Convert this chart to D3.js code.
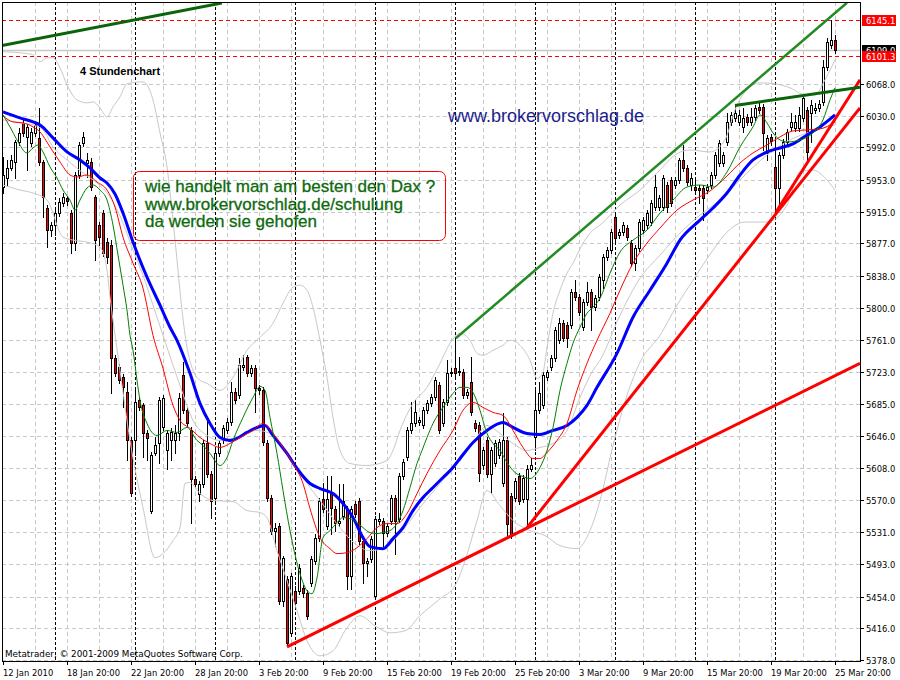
<!DOCTYPE html>
<html><head><meta charset="utf-8">
<script src="https://cdn.jsdelivr.net/npm/d3@7"></script>
<style>body{margin:0;background:#fff}svg{display:block}</style>
</head><body><div id="chart"></div>
<script>
// ---------- DATA ----------
const openP = [5944.6,5955.4,5967.4,5974.6,5998.6,6021.4,6004.6,5997.4,6009.4,6003.4,
5974.6,5919.4,5893.0,5899.0,5913.4,5925.4,5931.4,5913.4,5877.4,5959.0,
5997.4,5973.4,5974.6,5932.6,5899.0,5913.4,5878.6,5875.0,5739.4,5728.6,
5716.6,5698.6,5641.0,5641.0,5689.0,5683.0,5649.4,5557.0,5625.4,5637.4,
5656.6,5629.0,5641.0,5641.0,5649.4,5719.0,5677.0,5653.0,5595.4,5577.4,
5589.4,5637.4,5601.4,5572.6,5625.4,5641.0,5653.0,5662.6,5698.6,5695.0,
5728.6,5740.6,5721.4,5727.4,5703.4,5701.0,5637.4,5572.6,5533.0,5539.0,
5449.0,5475.4,5410.6,5461.0,5461.0,5464.6,5458.6,5470.6,5497.0,5524.6,
5571.4,5539.0,5578.6,5559.4,5542.6,5551.0,5559.4,5479.0,5565.4,5569.0,
5521.0,5494.6,5499.4,5455.0,5545.0,5545.0,5530.6,5545.0,5572.6,5547.4,
5599.0,5620.6,5653.0,5661.4,5662.6,5659.0,5677.0,5685.4,5692.6,5707.0,
5661.4,5686.6,5721.4,5727.4,5722.6,5722.6,5695.0,5710.6,5661.4,5659.0,
5611.0,5641.0,5601.4,5613.4,5623.0,5590.6,5641.0,5575.0,5572.6,5599.0,
5571.4,5571.4,5607.4,5644.6,5677.0,5683.0,5716.6,5728.6,5739.4,5761.0,
5781.4,5779.0,5779.0,5818.6,5812.6,5776.6,5806.6,5818.6,5800.6,5812.6,
5833.0,5860.6,5869.0,5908.6,5887.0,5890.6,5895.4,5877.4,5853.4,5871.4,
5893.0,5899.0,5902.6,5920.6,5920.6,5920.6,5947.0,5953.0,5947.0,5953.0,
5977.0,5967.4,5947.0,5944.6,5943.4,5943.4,5941.0,5947.0,5959.0,5973.4,
5973.4,5998.6,6022.6,6027.4,6022.6,6016.6,6028.6,6022.6,6028.6,6040.6,
6040.6,5985.4,6004.6,5968.6,5943.4,5983.0,5998.6,6016.6,6015.4,6015.4,
6027.4,6037.0,6033.4,6037.0,6039.4,6046.6,6088.6,6115.0,6121.0];
const highP = [5980.6,5977.0,5983.0,6001.0,6015.4,6025.0,6020.2,6015.4,6022.6,6039.4,
5977.0,5923.0,5902.6,5917.0,5931.4,5937.4,5933.8,5917.0,5962.6,5998.6,
6010.6,5985.4,5979.4,5935.0,5902.6,5917.0,5883.4,5881.0,5743.0,5732.2,
5720.2,5710.6,5644.6,5701.0,5692.6,5685.4,5653.0,5626.6,5644.6,5692.6,
5695.0,5653.0,5655.4,5659.0,5697.4,5734.6,5680.6,5656.6,5599.0,5593.0,
5641.0,5667.4,5605.0,5629.0,5641.0,5659.0,5667.4,5710.6,5703.4,5739.4,
5743.0,5743.0,5731.0,5731.0,5707.0,5704.6,5641.0,5576.2,5542.6,5542.6,
5503.0,5479.0,5482.6,5467.0,5493.4,5468.2,5462.2,5503.0,5529.4,5572.6,
5590.6,5599.0,5599.0,5563.0,5589.4,5589.4,5563.0,5563.0,5569.0,5572.6,
5524.6,5500.6,5527.0,5551.0,5554.6,5548.6,5542.6,5576.2,5576.2,5602.6,
5618.2,5656.6,5686.6,5689.0,5668.6,5680.6,5689.0,5696.2,5716.6,5710.6,
5690.2,5737.0,5727.4,5763.4,5740.6,5726.2,5702.2,5740.6,5665.0,5662.6,
5632.6,5644.6,5632.6,5641.0,5642.2,5673.4,5644.6,5578.6,5596.6,5602.6,
5600.2,5611.0,5619.4,5704.6,5710.6,5722.6,5725.0,5743.0,5776.6,5787.4,
5785.0,5782.6,5822.2,5833.0,5816.2,5810.2,5830.6,5822.2,5815.0,5840.2,
5864.2,5872.6,5894.2,5912.2,5894.2,5902.6,5899.0,5881.0,5875.0,5906.2,
5908.6,5917.0,5929.0,5959.0,5935.0,5959.0,5950.6,5956.6,5956.6,5979.4,
5995.0,5971.0,5961.4,5955.4,5947.0,5947.0,5948.2,5962.6,5986.6,6001.0,
5986.6,6033.4,6034.6,6043.0,6037.0,6039.4,6032.2,6039.4,6043.0,6047.8,
6044.2,6007.0,6008.2,6001.0,5986.6,6002.2,6014.2,6033.4,6031.0,6040.6,
6055.0,6040.6,6049.0,6045.4,6049.0,6097.0,6123.4,6145.1,6127.0];
const lowP = [5937.4,5947.0,5965.0,5955.4,5995.0,6005.8,5965.0,5993.8,6005.8,5971.0,
5908.6,5872.6,5885.8,5887.0,5909.8,5921.8,5923.0,5865.4,5869.0,5955.4,
5993.8,5956.6,5941.0,5857.0,5875.0,5861.8,5853.4,5697.4,5717.8,5709.4,
5680.6,5617.0,5575.0,5623.0,5677.0,5620.6,5617.0,5554.6,5623.0,5613.4,
5653.0,5607.4,5617.0,5625.4,5641.0,5673.4,5657.8,5542.6,5585.8,5569.0,
5585.8,5597.8,5548.6,5569.0,5621.8,5637.4,5649.4,5659.0,5685.4,5691.4,
5725.0,5717.8,5717.8,5674.6,5696.2,5635.0,5569.0,5529.4,5515.0,5445.4,
5443.0,5395.0,5407.0,5441.8,5457.4,5453.8,5427.4,5467.0,5493.4,5521.0,
5555.8,5535.4,5529.4,5533.0,5539.0,5547.4,5463.4,5463.4,5549.8,5517.4,
5470.6,5479.0,5495.8,5452.6,5541.4,5511.4,5527.0,5541.4,5505.4,5543.8,
5595.4,5617.0,5649.4,5657.8,5659.0,5655.4,5673.4,5681.8,5689.0,5649.4,
5657.8,5683.0,5717.8,5717.8,5719.0,5691.4,5691.4,5671.0,5651.8,5593.0,
5607.4,5597.8,5578.6,5609.8,5619.4,5587.0,5524.6,5524.6,5569.0,5565.4,
5567.8,5536.6,5605.0,5629.0,5673.4,5679.4,5713.0,5725.0,5735.8,5757.4,
5759.8,5752.6,5775.4,5809.0,5791.0,5773.0,5803.0,5773.0,5797.0,5809.0,
5823.4,5857.0,5865.4,5879.8,5883.4,5887.0,5881.0,5849.8,5845.0,5867.8,
5889.4,5895.4,5899.0,5917.0,5917.0,5917.0,5914.6,5921.8,5943.4,5949.4,
5963.8,5947.0,5941.0,5937.4,5925.4,5905.0,5937.4,5943.4,5955.4,5969.8,
5969.8,5995.0,6019.0,6023.8,6019.0,6010.6,6019.0,6019.0,6025.0,6033.4,
5989.0,5977.0,5995.0,5913.4,5920.6,5979.4,5995.0,6013.0,6011.8,6011.8,
6023.8,5974.6,5998.6,6033.4,6035.8,6043.0,6085.0,6111.4,6105.4];
const closeP = [5959.0,5967.4,5977.0,5998.6,6009.4,6009.4,6016.6,6010.6,6019.0,5974.6,
5932.6,5893.0,5899.0,5913.4,5926.6,5932.6,5927.8,5877.4,5959.0,5995.0,
6004.6,5977.0,5944.6,5881.0,5884.6,5865.4,5860.6,5739.4,5721.4,5713.0,
5704.6,5641.0,5578.6,5686.6,5680.6,5649.4,5643.4,5623.0,5635.0,5689.0,
5691.4,5649.4,5650.6,5649.4,5691.4,5677.0,5661.4,5595.4,5589.4,5589.4,
5637.4,5601.4,5569.0,5625.4,5637.4,5655.4,5662.6,5698.6,5689.0,5731.0,
5731.0,5721.4,5727.4,5703.4,5701.0,5638.6,5572.6,5533.0,5536.6,5449.0,
5500.6,5398.6,5479.0,5446.6,5488.6,5458.6,5431.0,5499.4,5524.6,5569.0,
5559.4,5571.4,5560.6,5542.6,5545.0,5569.0,5479.0,5559.4,5553.4,5521.0,
5494.6,5497.0,5523.4,5547.4,5547.4,5530.6,5539.0,5572.6,5545.0,5599.0,
5614.6,5653.0,5661.4,5674.6,5665.0,5677.0,5685.4,5692.6,5713.0,5653.0,
5686.6,5721.4,5722.6,5721.4,5723.8,5695.0,5698.6,5674.6,5655.4,5602.6,
5629.0,5601.4,5629.0,5637.4,5638.6,5641.0,5541.4,5527.0,5593.0,5569.0,
5596.6,5607.4,5611.0,5677.0,5697.4,5719.0,5722.6,5739.4,5773.0,5781.4,
5763.4,5763.4,5818.6,5812.6,5794.6,5806.6,5818.6,5800.6,5811.4,5836.6,
5860.6,5869.0,5890.6,5883.4,5890.6,5899.0,5884.6,5853.4,5871.4,5902.6,
5905.0,5913.4,5925.4,5944.6,5931.4,5955.4,5920.6,5925.4,5953.0,5977.0,
5967.4,5950.6,5955.4,5941.0,5941.0,5931.4,5944.6,5959.0,5983.0,5997.4,
5983.0,6022.6,6031.0,6033.4,6031.0,6027.4,6022.6,6028.6,6039.4,6037.0,
6009.4,6003.4,5999.8,5943.4,5983.0,5998.6,6010.6,6022.6,6022.6,6031.0,
6051.4,5986.6,6043.0,6039.4,6044.2,6088.6,6118.6,6121.0,6109.0];

// moving averages / bands: [bar index, price]
const maBlue = [[0,6034.6],[4.25,6027.4],[7.5,6022.6],[9.25,6019.0],[12.5,6003.4],[16,5986.6],[19.25,5977.0],[21.75,5967.4],[24.25,5955.4],[26,5949.4],[28,5936.2],[30,5913.4],[32.5,5878.6],[36,5836.6],[39.25,5803.0],[41.75,5776.6],[43.5,5761.0],[46.75,5721.4],[49.25,5685.4],[51.75,5661.4],[54.25,5644.6],[56.75,5641.0],[58.5,5643.4],[61,5650.6],[64.25,5657.8],[65.5,5659.0],[67.5,5647.0],[71,5625.4],[73.5,5607.4],[76.75,5589.4],[79.25,5583.4],[82.5,5577.4],[85,5565.4],[87.5,5548.6],[90,5524.6],[91.75,5513.8],[95,5511.4],[97.5,5523.4],[100,5536.6],[102.5,5557.0],[105,5572.6],[107.5,5584.6],[110,5596.6],[112.5,5608.6],[114.25,5619.4],[117.5,5638.6],[121,5653.0],[125,5662.6],[127.5,5656.6],[131,5649.4],[134.25,5648.2],[137.5,5653.0],[141,5659.0],[143.5,5668.6],[146,5683.0],[148.5,5704.6],[153.5,5745.4],[157.5,5788.6],[161.75,5821.0],[166,5853.4],[169.25,5881.0],[174.25,5905.0],[177.5,5919.4],[181,5937.4],[184.25,5959.0],[187.5,5977.0],[191,5986.6],[194.25,5991.4],[197.5,5996.2],[201,6007.0],[204.25,6016.6],[208,6031.0]];
const maRed = [[0,6029.8],[2.5,6022.6],[5,6021.4],[7.5,6016.6],[9.25,6010.6],[11.75,5992.6],[14.25,5974.6],[16.75,5959.0],[18.5,5956.6],[21,5959.0],[23.5,5950.6],[26,5941.0],[28,5920.6],[30,5884.6],[32.5,5853.4],[35,5823.4],[37.5,5767.0],[40,5727.4],[42.5,5683.0],[44.25,5665.0],[46.75,5655.4],[49.25,5644.6],[51.75,5637.4],[54.25,5632.6],[56.75,5637.4],[59.25,5644.6],[62.5,5653.0],[65,5661.4],[67.5,5649.4],[70,5632.6],[72.5,5613.4],[75,5589.4],[76.75,5559.4],[79.25,5524.6],[81.75,5511.4],[83.5,5505.4],[86,5506.6],[88.5,5512.6],[91,5523.4],[93.5,5536.6],[96,5541.4],[98.5,5541.4],[101,5553.4],[103.5,5577.4],[106,5601.4],[109.25,5629.0],[112.5,5653.0],[115,5677.0],[117.5,5686.6],[120,5680.6],[122.5,5674.6],[125,5671.0],[127.5,5653.0],[130,5632.6],[132.5,5619.4],[134.25,5619.4],[136,5626.6],[138.5,5641.0],[141,5661.4],[143.5,5701.0],[146,5733.4],[148.5,5761.0],[151.75,5793.4],[154.25,5821.0],[157.5,5853.4],[161,5877.4],[164.25,5895.4],[168.5,5917.0],[172.5,5929.0],[176.75,5939.8],[181,5957.8],[184.25,5973.4],[187.5,5985.4],[191,5995.0],[194.25,6004.6],[197.5,6011.8],[201,6013.0],[204.25,6014.2],[208,6022.6]];
const maGreen = [[0,6031.0],[1.75,6016.6],[3.5,6001.0],[6,5985.4],[7.5,5991.4],[8.75,5995.0],[10,5986.6],[11.75,5968.6],[13.5,5955.4],[15,5941.0],[16.75,5929.0],[18,5917.0],[19.25,5929.0],[21,5943.4],[22.5,5947.0],[24.25,5941.0],[26,5929.0],[27.5,5899.0],[28.75,5863.0],[30,5827.0],[31,5797.0],[31.75,5767.0],[32.5,5749.0],[33.5,5713.0],[34.25,5689.0],[36,5661.4],[38.5,5647.0],[41,5653.0],[43.5,5650.6],[46,5656.6],[48.5,5641.0],[50,5635.0],[51.75,5625.4],[54.25,5611.0],[56,5620.6],[57.5,5641.0],[60,5668.6],[62.5,5692.6],[64.25,5705.8],[65.5,5701.0],[66.75,5668.6],[68.5,5625.4],[70,5581.0],[71.75,5533.0],[74.25,5481.4],[76,5461.0],[77.25,5457.4],[78.5,5476.6],[80,5524.6],[81.75,5533.0],[83.5,5542.6],[85,5548.6],[86.75,5547.4],[88.5,5542.6],[90,5536.6],[91.75,5530.6],[93.5,5529.4],[95,5530.6],[96.75,5533.0],[98.5,5541.4],[100,5557.0],[101.75,5584.6],[103.5,5613.4],[104.75,5629.0],[106,5644.6],[107.5,5661.4],[110,5680.6],[112.5,5697.4],[114.25,5704.6],[116,5704.6],[117.5,5698.6],[119.25,5677.0],[121,5649.4],[122.5,5637.4],[124.25,5629.0],[126,5614.6],[128,5602.6],[130,5597.8],[131.75,5595.4],[134.25,5608.6],[136,5629.0],[137.5,5656.6],[139.25,5701.0],[141,5733.4],[142.5,5757.4],[144.25,5776.6],[146,5793.4],[147.5,5800.6],[149.25,5811.4],[151.75,5841.4],[154.25,5866.6],[157.5,5881.0],[161,5893.0],[164.25,5913.4],[167.5,5929.0],[171,5944.6],[174.25,5947.0],[177.5,5944.6],[181,5962.6],[184.25,5992.6],[187.5,6016.6],[189.25,6031.0],[191,6021.4],[192.5,6009.4],[194.25,6001.0],[196,5998.6],[199.25,6001.0],[202.5,6009.4],[205,6025.0],[206.75,6049.0],[208,6063.4]];
const bandUpper = [[0,6106.6],[4.25,6105.4],[7.5,6103.0],[9.25,6094.6],[11,6099.4],[12.5,6099.4],[14.25,6087.4],[16,6067.0],[18.5,6049.0],[21,6045.4],[22.5,6046.6],[24.25,6039.4],[26,6028.6],[27.5,6040.6],[29.25,6052.6],[31,6068.2],[35,6070.6],[37.5,6049.0],[39.25,6009.4],[41,5968.6],[42.5,5905.0],[43.5,5857.0],[44.75,5797.0],[46,5752.6],[47.5,5725.0],[49.25,5713.0],[51,5709.4],[52.5,5704.6],[54.25,5701.0],[57.5,5716.6],[61,5749.0],[64.25,5764.6],[67.5,5781.4],[70,5805.4],[72.5,5824.6],[74.25,5827.0],[76,5821.0],[77.5,5800.6],[79.25,5761.0],[81,5716.6],[82.5,5668.6],[84.25,5629.0],[86.75,5613.4],[91,5611.0],[96,5617.0],[97.5,5629.0],[99.25,5653.0],[102.5,5685.4],[106,5704.6],[109.25,5733.4],[111.75,5757.4],[114.25,5769.4],[116.75,5761.0],[118.5,5745.4],[120,5743.0],[122.5,5749.0],[125,5755.0],[126.75,5761.0],[129.25,5755.0],[131.75,5737.0],[133.5,5715.4],[135,5722.6],[136,5752.6],[137.5,5793.4],[139.25,5821.0],[141,5841.4],[142.5,5853.4],[145,5877.4],[147.5,5893.0],[149.25,5899.0],[154.25,5923.0],[159.25,5941.0],[164.25,5965.0],[168,5983.0],[171.75,5989.0],[176.75,5986.6],[180.5,6001.0],[183,6037.0],[185.5,6058.6],[189.25,6069.4],[193,6068.2],[196.75,6063.4],[200.5,6055.0],[203,6055.0],[205.5,6073.0],[208,6097.0]];
const bandMiddle = [[0,6025.0],[4.25,6021.4],[7.5,6019.0],[10,6013.0],[12.5,5992.6],[16,5977.0],[20,5961.4],[23.5,5949.4],[26.75,5932.6],[30,5901.4],[32.5,5869.0],[35,5839.0],[37.5,5803.0],[40,5767.0],[42.5,5731.0],[44.25,5707.0],[47.5,5665.0],[51,5647.0],[54.25,5641.0],[58.5,5644.6],[63.5,5653.0],[66.75,5649.4],[70,5632.6],[73.5,5607.4],[76.75,5584.6],[79.25,5569.0],[84.25,5536.6],[88,5517.4],[91.75,5509.0],[95.5,5512.6],[99.25,5529.4],[104.25,5560.6],[109.25,5589.4],[114.25,5617.0],[117.5,5637.4],[121,5659.0],[124.25,5649.4],[127.5,5637.4],[131,5629.0],[134.25,5632.6],[137.5,5637.4],[141,5653.0],[144.25,5692.6],[147.5,5725.0],[149.25,5737.0],[154.25,5791.0],[159.25,5835.4],[164.25,5863.0],[170,5893.0],[174.25,5911.0],[179.25,5929.0],[185.5,5959.0],[191,5983.0],[196.75,6001.0],[201.75,6010.6],[208,6019.0]];
const bandLower = [[0,5947.0],[4.25,5941.0],[7.5,5937.4],[11,5929.0],[15,5884.6],[17.5,5881.0],[21,5878.6],[24.25,5872.6],[26,5845.0],[26.75,5812.6],[27.5,5785.0],[29.25,5725.0],[31.75,5641.0],[35,5560.6],[38,5500.6],[40,5505.4],[42.5,5521.0],[44.25,5536.6],[45.5,5589.4],[46.75,5590.6],[49.25,5577.4],[52.5,5569.0],[57.5,5567.8],[61,5557.0],[64.25,5554.6],[66,5548.6],[68.5,5509.0],[71,5473.0],[73.5,5437.0],[76,5401.0],[79.25,5383.0],[82.5,5389.0],[85.5,5413.0],[89.25,5431.0],[93,5419.0],[96.75,5410.6],[100.5,5413.0],[104.25,5431.0],[109.25,5451.4],[113,5467.0],[115.5,5497.0],[118.5,5545.0],[121,5581.0],[124.25,5563.0],[127.5,5545.0],[131.75,5533.0],[135.5,5527.0],[139.25,5515.0],[143.5,5511.4],[146.75,5533.0],[149.25,5569.0],[152.5,5635.0],[156,5695.0],[159.25,5734.6],[164.25,5767.0],[168.5,5803.0],[172.5,5833.0],[177.5,5869.0],[181,5890.6],[185.5,5902.6],[191,5902.6],[196,5923.0],[199.25,5962.6],[202.5,5965.0],[206,5953.0],[208,5941.0]];

// trend lines drawn by the author: [[bar, price],[bar, price]]
const trendDarkGreen = [[[-0.25,6114.2],[54.7,6165.0]], [[183,6042.2],[214.25,6064.2]]];
const trendGreen = [[[113.2,5763.4],[211,6165.4]]];
const trendRed = [[[71,5393.8],[214.25,5733.4]], [[131,5536.6],[214.25,6039.4]], [[193.25,5914.6],[214.25,6073.0]]];

const yTickLabels = ["6068.0","6030.0","5992.0","5953.0","5915.0","5877.0","5838.0","5800.0","5761.0","5723.0","5685.0","5646.0","5608.0","5570.0","5531.0","5493.0","5454.0","5416.0","5378.0"];
const dateLabels = ["12 Jan 2010","18 Jan 20:00","22 Jan 20:00","28 Jan 20:00","3 Feb 20:00","9 Feb 20:00","15 Feb 20:00","19 Feb 20:00","25 Feb 20:00","3 Mar 20:00","9 Mar 20:00","15 Mar 20:00","19 Mar 20:00","25 Mar 20:00"];
const barsPerLabel = 16;
const barsPerGrid = 8;
const weekStartBars = [13,33,53,73,93,113,133,153,173,193];
const levelLines = [6145.1, 6101.3];
const lastPrice = 6109.0;
const chartTitle = "4 Stundenchart";
const siteText = "www.brokervorschlag.de";
const boxLines = ["wie handelt man am besten den Dax ?","www.brokervorschlag.de/schulung","da werden sie gehofen"];
const copyright = "Metatrader, \u00A9 2001-2009 MetaQuotes Software Corp.";

// ---------- CHART ----------
const W = 900, H = 680;
const L = 2, R = 860, T = 2, B = 661;
const svg = d3.select("#chart").append("svg").attr("width", W).attr("height", H)
  .style("font-family", "'DejaVu Sans', sans-serif");
const x = d3.scaleLinear().domain([-0.25, 214.25]).range([L, R]);
const y = d3.scaleLinear().domain([5378, 6068]).range([660, 84]);
const px = v => Math.round(x(v));
const py = v => Math.round(y(v));

svg.append("defs").append("clipPath").attr("id", "plot")
  .append("rect").attr("x", L).attr("y", T).attr("width", R - L).attr("height", B - T);
const g = svg.append("g").attr("clip-path", "url(#plot)");

const tickVals = yTickLabels.map(Number);
g.selectAll(".hg").data(tickVals).join("line")
  .attr("x1", L).attr("x2", R).attr("y1", d => py(d) + 0.5).attr("y2", d => py(d) + 0.5)
  .attr("stroke", "#c8c8c8").attr("stroke-dasharray", "4,3");
const nBars = closeP.length;
const gridBars = d3.range(barsPerGrid, nBars, barsPerGrid);
g.selectAll(".vg").data(gridBars).join("line")
  .attr("x1", d => px(d) + 0.5).attr("x2", d => px(d) + 0.5).attr("y1", T).attr("y2", B)
  .attr("stroke", "#c8c8c8").attr("stroke-dasharray", "4,3");
g.selectAll(".sep").data(weekStartBars).join("line")
  .attr("x1", d => px(d) + 0.5).attr("x2", d => px(d) + 0.5).attr("y1", T).attr("y2", B)
  .attr("stroke", "#000").attr("stroke-dasharray", "3,2");
g.append("line").attr("x1", L).attr("x2", R).attr("y1", py(lastPrice) + 0.5).attr("y2", py(lastPrice) + 0.5)
  .attr("stroke", "#c8c8c8").attr("stroke-width", 1.5);
g.selectAll(".lvl").data(levelLines).join("line")
  .attr("x1", L).attr("x2", R).attr("y1", d => py(d) + 0.5).attr("y2", d => py(d) + 0.5)
  .attr("stroke", "#ff0000").attr("stroke-dasharray", "4,3");

// candles
const bars = d3.range(nBars);
const cg = g.append("g");
cg.selectAll(".wick").data(bars).join("line")
  .attr("x1", i => px(i) + 0.5).attr("x2", i => px(i) + 0.5)
  .attr("y1", i => py(highP[i])).attr("y2", i => py(lowP[i]) + 1)
  .attr("stroke", "#000");
cg.selectAll(".body").data(bars).join("rect")
  .attr("x", i => px(i) - 0.5).attr("width", 2)
  .attr("y", i => py(Math.max(openP[i], closeP[i])) + 0.5)
  .attr("height", i => Math.max(0.01, py(Math.min(openP[i], closeP[i])) - py(Math.max(openP[i], closeP[i]))))
  .attr("fill", i => closeP[i] < openP[i] ? "#ff0000" : "#ffffff")
  .attr("stroke", "#000");

// indicator lines
const line = d3.line().x(d => x(d[0])).y(d => y(d[1])).curve(d3.curveMonotoneX);
[[bandUpper, "#c8c8c8", 1], [bandMiddle, "#c8c8c8", 1], [bandLower, "#c8c8c8", 1],
 [maBlue, "#0000ff", 3], [maRed, "#ff0000", 1], [maGreen, "#008000", 1]].forEach(([d, c, w]) => {
  g.append("path").datum(d).attr("d", line).attr("fill", "none").attr("stroke", c).attr("stroke-width", w);
});

// trend lines
const tl = d3.line().x(d => x(d[0])).y(d => y(d[1]));
trendRed.forEach(d => g.append("path").attr("d", tl(d)).attr("stroke", "#ff0000").attr("stroke-width", 3).attr("fill", "none"));
trendGreen.forEach(d => g.append("path").attr("d", tl(d)).attr("stroke", "#228b22").attr("stroke-width", 2.5).attr("fill", "none"));
trendDarkGreen.forEach(d => g.append("path").attr("d", tl(d)).attr("stroke", "#0a640a").attr("stroke-width", 3).attr("fill", "none"));

// text objects
g.append("text").attr("x", 80).attr("y", 75).text(chartTitle)
  .style("font-family", "'Liberation Sans', Arial, sans-serif").style("font-weight", "bold").style("font-size", "11px").attr("fill", "#000");
g.append("text").attr("x", 448).attr("y", 122).text(siteText)
  .style("font-family", "'Liberation Sans', Arial, sans-serif").style("font-size", "18px").attr("fill", "#1c1c8c");
g.append("rect").attr("x", 133.5).attr("y", 171.5).attr("width", 312).attr("height", 69).attr("rx", 6)
  .attr("fill", "none").attr("stroke", "#ff0000");
g.selectAll(".bl").data(boxLines).join("text")
  .attr("x", 145).attr("y", (d, i) => 192 + i * 17.5).text(d => d)
  .style("font-family", "'Liberation Sans', Arial, sans-serif").style("font-size", "17px")
  .attr("fill", "#0e6a0e").attr("stroke", "#0e6a0e").attr("stroke-width", 0.3);
g.append("text").attr("x", 5).attr("y", 657).text(copyright).style("font-size", "8.8px").attr("fill", "#000");

// frame
svg.append("rect").attr("x", L + 0.5).attr("y", T + 0.5).attr("width", R - L).attr("height", B - T)
  .attr("fill", "none").attr("stroke", "#000");

// right axis
svg.selectAll(".yt").data(tickVals).join("line")
  .attr("x1", R).attr("x2", R + 4).attr("y1", d => py(d) + 0.5).attr("y2", d => py(d) + 0.5).attr("stroke", "#000");
svg.selectAll(".yl").data(yTickLabels).join("text")
  .attr("x", 866).attr("y", d => py(+d) + 3.5).text(d => d)
  .style("font-size", "8.4px").attr("fill", "#000");

// price tags (the 6101.3 tag overlaps the 6109.0 tag, as in the original)
const tags = [[levelLines[0], "#ff0000"], [lastPrice, "#000000"], [levelLines[1], "#ff0000"]];
tags.forEach(([v, c]) => {
  const yy = y(v);
  svg.append("rect").attr("x", 862).attr("y", Math.round(yy) - 5).attr("width", 34).attr("height", 11).attr("fill", c);
  svg.append("text").attr("x", 866).attr("y", Math.round(yy) + 3.5).text(v.toFixed(1))
    .style("font-size", "8.4px").attr("fill", "#fff");
});

// bottom axis
const labelBars = dateLabels.map((d, i) => i * barsPerLabel);
svg.selectAll(".xt").data(labelBars).join("line")
  .attr("x1", d => px(d) + 0.5).attr("x2", d => px(d) + 0.5).attr("y1", B).attr("y2", B + 4).attr("stroke", "#000");
svg.selectAll(".xl").data(dateLabels).join("text")
  .attr("x", (d, i) => px(labelBars[i])).attr("y", 676).text(d => d)
  .style("font-size", "8.4px").attr("fill", "#000");
</script>
</body></html>
